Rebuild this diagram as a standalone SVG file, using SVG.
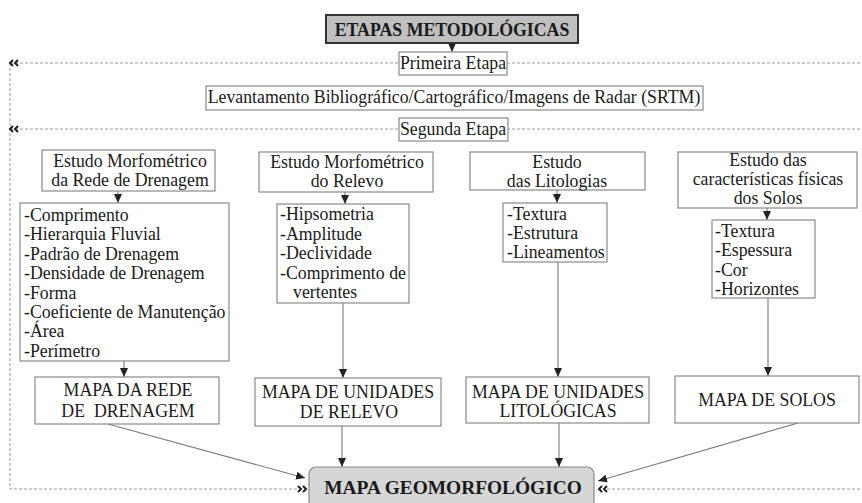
<svg xmlns="http://www.w3.org/2000/svg" width="862" height="503" viewBox="0 0 862 503">
<defs>
<style>
.t{font-family:"Liberation Serif","Times New Roman",serif;font-size:17.8px;fill:#1a1a1a}
.m{text-anchor:middle}
.b{font-weight:bold}
.box{fill:#fff;stroke:#8a8a8a;stroke-width:1.2}
.ln{fill:none;stroke:#7a7a7a;stroke-width:1.1}
.dash{fill:none;stroke:#9a9a9a;stroke-width:1;stroke-dasharray:3,2}
.chev{fill:none;stroke:#222;stroke-width:2}
</style>
<marker id="ah" markerUnits="userSpaceOnUse" markerWidth="10" markerHeight="10" viewBox="0 0 10 10" refX="9" refY="5" orient="auto">
<path d="M0,1 L9,5 L0,9 Z" fill="#222"/>
</marker>
</defs>
<rect width="862" height="503" fill="#fff"/>

<g id="connectors">
<line class="ln" x1="452" y1="43" x2="452" y2="52" marker-end="url(#ah)"/>
<line class="ln" x1="118" y1="191" x2="118" y2="203" marker-end="url(#ah)"/>
<line class="ln" x1="124" y1="361" x2="124" y2="377" marker-end="url(#ah)"/>
<line class="ln" x1="345" y1="192" x2="345" y2="204" marker-end="url(#ah)"/>
<line class="ln" x1="343" y1="303" x2="343" y2="378" marker-end="url(#ah)"/>
<line class="ln" x1="557" y1="190" x2="557" y2="203" marker-end="url(#ah)"/>
<line class="ln" x1="558" y1="262" x2="558" y2="377" marker-end="url(#ah)"/>
<line class="ln" x1="767" y1="208" x2="767" y2="220" marker-end="url(#ah)"/>
<line class="ln" x1="768" y1="298" x2="768" y2="376" marker-end="url(#ah)"/>
<line class="ln" x1="108" y1="424" x2="305" y2="478" marker-end="url(#ah)"/>
<line class="ln" x1="342" y1="426" x2="342" y2="467" marker-end="url(#ah)"/>
<line class="ln" x1="559" y1="423" x2="559" y2="467" marker-end="url(#ah)"/>
<line class="ln" x1="798" y1="423" x2="598" y2="481" marker-end="url(#ah)"/>
<path class="dash" d="M10,63 H399 M507,63 H862 M10,129 H399 M507,129 H862 M10,63 V489 H297 M607,489 H862"/>
<path class="chev" d="M13,60 L10,63 L13,66 M18,60 L15,63 L18,66 M13,126 L10,129 L13,132 M18,126 L15,129 L18,132 M298,486 L301,489 L298,492 M303,486 L306,489 L303,492 M602,486 L599,489 L602,492 M607,486 L604,489 L607,492"/>
</g>

<g id="etapas">
<rect x="326" y="15" width="252" height="28" fill="#c0c0c0" stroke="#333" stroke-width="2"/>
<text class="t b m" x="452" y="36" style="font-size:17.8px">ETAPAS METODOLÓGICAS</text>
</g>
<g id="primeira">
<rect class="box" x="399" y="52" width="108" height="23"/>
<text class="t m" x="453" y="69">Primeira Etapa</text>
</g>
<g id="levantamento">
<rect class="box" x="206" y="86" width="497" height="24"/>
<text class="t m" x="454" y="103">Levantamento Bibliográfico/Cartográfico/Imagens de Radar (SRTM)</text>
</g>
<g id="segunda">
<rect class="box" x="399" y="118" width="109" height="23"/>
<text class="t m" x="453" y="135">Segunda Etapa</text>
</g>

<g id="col1-head">
<rect class="box" x="42" y="150" width="173" height="41"/>
<text class="t m" x="130" y="167">Estudo Morfométrico</text>
<text class="t m" x="130" y="186">da Rede de Drenagem</text>
</g>
<g id="col1-list">
<rect class="box" x="20" y="203" width="209" height="158"/>
<text class="t" x="24" y="221">-Comprimento</text>
<text class="t" x="24" y="240">-Hierarquia Fluvial</text>
<text class="t" x="24" y="260">-Padrão de Drenagem</text>
<text class="t" x="24" y="279">-Densidade de Drenagem</text>
<text class="t" x="24" y="299">-Forma</text>
<text class="t" x="24" y="318">-Coeficiente de Manutenção</text>
<text class="t" x="24" y="337">-Área</text>
<text class="t" x="24" y="357">-Perímetro</text>
</g>
<g id="col1-map">
<rect class="box" x="35" y="377" width="184" height="47"/>
<text class="t m" x="128" y="396">MAPA DA REDE</text>
<text class="t m" x="128" y="417" xml:space="preserve">DE  DRENAGEM</text>
</g>

<g id="col2-head">
<rect class="box" x="259" y="152" width="174" height="40"/>
<text class="t m" x="347" y="168">Estudo Morfométrico</text>
<text class="t m" x="347" y="187">do Relevo</text>
</g>
<g id="col2-list">
<rect class="box" x="277" y="204" width="132" height="99"/>
<text class="t" x="280" y="220">-Hipsometria</text>
<text class="t" x="280" y="240">-Amplitude</text>
<text class="t" x="280" y="259">-Declividade</text>
<text class="t" x="280" y="279">-Comprimento de</text>
<text class="t" x="293" y="298">vertentes</text>
</g>
<g id="col2-map">
<rect class="box" x="255" y="378" width="186" height="48"/>
<text class="t m" x="348" y="398">MAPA DE UNIDADES</text>
<text class="t m" x="349" y="418">DE RELEVO</text>
</g>

<g id="col3-head">
<rect class="box" x="470" y="152" width="175" height="38"/>
<text class="t m" x="557" y="168">Estudo</text>
<text class="t m" x="557" y="187">das Litologias</text>
</g>
<g id="col3-list">
<rect class="box" x="503" y="203" width="104" height="59"/>
<text class="t" x="507" y="220">-Textura</text>
<text class="t" x="507" y="239">-Estrutura</text>
<text class="t" x="507" y="258">-Lineamentos</text>
</g>
<g id="col3-map">
<rect class="box" x="466" y="377" width="183" height="46"/>
<text class="t m" x="558" y="398">MAPA DE UNIDADES</text>
<text class="t m" x="558" y="417">LITOLÓGICAS</text>
</g>

<g id="col4-head">
<rect class="box" x="678" y="152" width="179" height="56"/>
<text class="t m" x="768" y="166">Estudo das</text>
<text class="t m" x="768" y="185">características físicas</text>
<text class="t m" x="768" y="204">dos Solos</text>
</g>
<g id="col4-list">
<rect class="box" x="712" y="220" width="103" height="78"/>
<text class="t" x="715" y="237">-Textura</text>
<text class="t" x="715" y="256">-Espessura</text>
<text class="t" x="715" y="276">-Cor</text>
<text class="t" x="715" y="295">-Horizontes</text>
</g>
<g id="col4-map">
<rect class="box" x="675" y="376" width="184" height="47"/>
<text class="t m" x="767" y="406">MAPA DE SOLOS</text>
</g>

<g id="geomorfologico">
<rect x="309" y="467" width="285" height="50" rx="7" fill="#d6d6d6" stroke="#888" stroke-width="1.2"/>
<text class="t b m" x="453" y="494" style="font-size:19.4px">MAPA GEOMORFOLÓGICO</text>
</g>
</svg>
